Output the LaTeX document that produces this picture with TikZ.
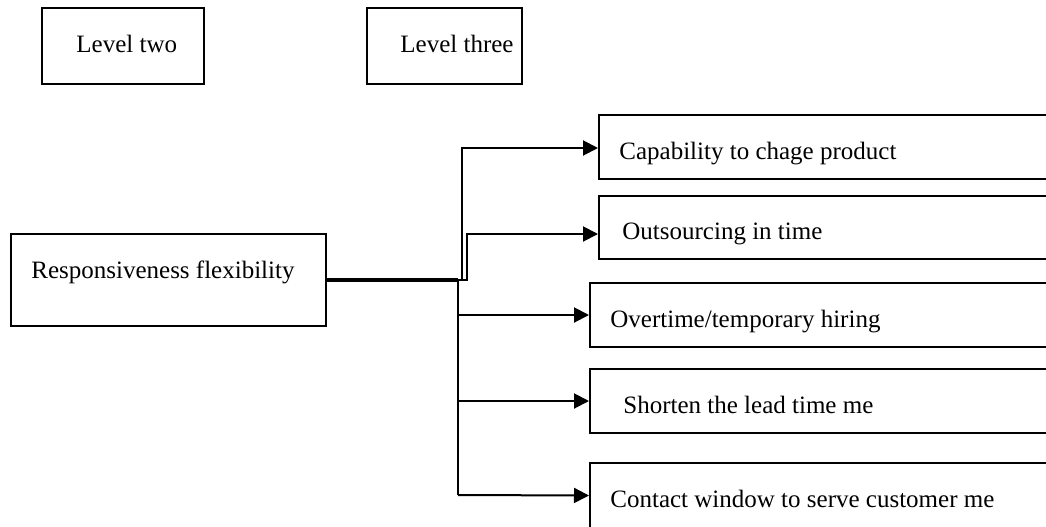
\documentclass[tikz,border=0pt]{standalone}
\usepackage{fontspec}
\setmainfont{Liberation Serif}
\usetikzlibrary{arrows.meta}

\begin{document}
\begin{tikzpicture}[x=0.5pt,y=-0.5pt,
  box/.style={draw, line width=1pt, rectangle, inner sep=0pt},
  lbl/.style={anchor=base west, inner sep=0pt, font=\fontsize{12.5}{15}\selectfont},
  conn/.style={line width=1pt},
  arr/.style={conn, -{Triangle[length=7.5pt,width=7.5pt]}},
  trunk/.style={line width=1.6pt}]
\useasboundingbox (0,0) rectangle (1046,526);
\clip (0,0) rectangle (1046,526);

% headings
\node[box, minimum width=81pt, minimum height=38pt] (lvtwo) at (123,46) {};
\node[lbl] (lvtwo-t) at (76,52) {Level two};
\node[box, minimum width=77.5pt, minimum height=38pt] (lvthree) at (444.5,46) {};
\node[lbl] (lvthree-t) at (400,52) {Level three};

% level two item
\node[box, minimum width=157.5pt, minimum height=46pt] (resp) at (168.5,280) {};
\node[lbl] (resp-t) at (31,278) {Responsiveness flexibility};

% level three items
\node[box, minimum width=230.5pt, minimum height=32pt] (capa) at (829.5,147) {};
\node[lbl] (capa-t) at (619,159) {Capability to chage product};
\node[box, minimum width=230.5pt, minimum height=31.5pt] (outs) at (829.5,227.5) {};
\node[lbl] (outs-t) at (622,239) {Outsourcing in time};
\node[box, minimum width=235pt, minimum height=32pt] (over) at (825,315) {};
\node[lbl] (over-t) at (610,327) {Overtime/temporary hiring};
\node[box, minimum width=235pt, minimum height=32pt] (lead) at (825,401) {};
\node[lbl] (lead-t) at (623,413) {Shorten the lead time me};
\node[box, minimum width=235pt, minimum height=32.5pt] (cont) at (825,495.5) {};
\node[lbl] (cont-t) at (610,507) {Contact window to serve customer me};

% junction points on the trunk
\coordinate (j) at (458,280);
\coordinate (j1) at (462,280);
\coordinate (j2) at (467,280);
\coordinate (jb) at (458,495);

% connectors
\draw[trunk] (resp.east) -- (j);
\draw[arr] (j) -- (j1) |- ([yshift=-0.5pt]capa.west);
\draw[arr] (j1) -- (j2) |- ([yshift=-3.25pt]outs.west);
\draw[conn] (j) -- (jb);
\draw[arr] (j |- over.west) -- (over.west);
\draw[arr] (j |- lead.west) -- (lead.west);
\draw[arr] (jb) -- (cont.west);
\end{tikzpicture}
\end{document}
